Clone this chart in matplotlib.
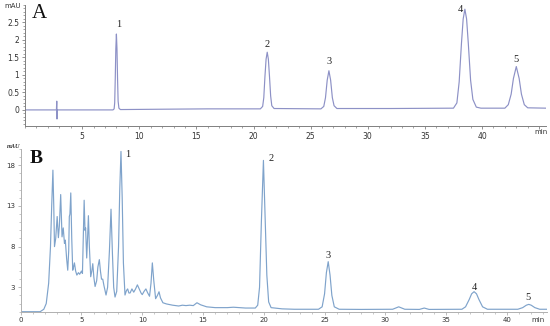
import matplotlib
matplotlib.use('Agg')
import matplotlib.pyplot as plt
from matplotlib.ticker import MultipleLocator

# === Panel A: standard mixture (time in min, absorbance in mAU) ===
time_a = [0.0, 2.75, 2.78, 2.80, 2.83, 5.0, 7.7, 7.8, 7.85, 7.9, 7.95, 8.0, 8.05, 8.1, 8.15, 8.22, 8.35,
          12.0, 16.0, 20.6, 20.8, 20.9, 21.0, 21.1, 21.2, 21.3, 21.4, 21.5, 21.6, 21.8,
          25.9, 26.15, 26.3, 26.45, 26.6, 26.75, 26.9, 27.05, 27.3,
          32.0, 37.5, 37.8, 38.0, 38.2, 38.35, 38.5, 38.65, 38.8, 39.0, 39.2, 39.5, 39.9,
          42.0, 42.3, 42.55, 42.75, 43.0, 43.25, 43.45, 43.7, 44.0, 45.6]
signal_a = [0.0, 0.0, 0.25, -0.26, 0.0, 0.0, 0.0, 0.03, 0.2, 0.9, 1.75, 2.17, 1.75, 0.9, 0.25, 0.05, 0.01,
            0.02, 0.03, 0.03, 0.1, 0.35, 0.95, 1.45, 1.65, 1.45, 0.95, 0.4, 0.12, 0.04,
            0.03, 0.1, 0.35, 0.85, 1.12, 0.85, 0.35, 0.12, 0.04,
            0.04, 0.05, 0.2, 0.8, 1.9, 2.6, 2.88, 2.6, 1.9, 0.85, 0.3, 0.08, 0.05,
            0.05, 0.15, 0.45, 0.9, 1.24, 0.9, 0.45, 0.15, 0.06, 0.05]
peaks_a_t = [8.17, 21.2, 26.6, 38.1, 43.0]
peaks_a_v = [2.44, 1.87, 1.38, 2.87, 1.44]

# === Panel B: sample extract ===
time_b = [0.0, 1.6, 1.9, 2.1, 2.3, 2.45, 2.55, 2.65, 2.72, 2.78, 2.88, 3.0, 3.1, 3.18, 3.29, 3.4, 3.5,
          3.6, 3.67, 3.78, 3.87, 3.95, 4.0, 4.05, 4.12, 4.2, 4.28, 4.35, 4.42, 4.52, 4.62, 4.75,
          4.85, 5.0, 5.08, 5.15, 5.22, 5.29, 5.34, 5.43, 5.5, 5.57, 5.65, 5.76, 5.85, 5.93, 6.02,
          6.12, 6.25, 6.35, 6.47, 6.56, 6.65, 6.75, 6.85, 7.02, 7.15, 7.3, 7.43, 7.55, 7.65, 7.76,
          7.9, 8.05, 8.15, 8.25, 8.35, 8.45, 8.58, 8.7, 8.8, 8.9, 9.0, 9.15, 9.3, 9.45, 9.6, 9.75,
          9.9, 10.0, 10.15, 10.3, 10.45, 10.6, 10.72, 10.83, 10.95, 11.1, 11.25, 11.38, 11.5, 11.7,
          12.0, 12.5, 13.0, 13.3, 13.6, 13.9, 14.2, 14.5, 14.8, 15.3, 16.0, 17.0, 17.5, 18.5, 19.3,
          19.5, 19.65, 19.8, 19.97, 20.1, 20.25, 20.4, 20.6, 21.5, 22.5, 24.5, 24.8, 25.0, 25.15,
          25.3, 25.45, 25.6, 25.8, 26.2, 28.0, 30.6, 31.1, 31.6, 32.8, 33.2, 33.6, 36.3, 36.6,
          36.9, 37.1, 37.3, 37.5, 37.7, 38.0, 38.4, 40.9, 41.3, 41.6, 41.8, 42.0, 42.3, 42.7, 43.3]
signal_b = [0.0, 0.0, 0.3, 1.0, 3.5, 8.0, 13.0, 17.4, 13.0, 8.0, 9.0, 11.7, 9.1, 10.5, 14.4, 9.2, 10.3,
            8.4, 8.8, 6.5, 5.1, 7.5, 11.7, 12.0, 14.6, 9.0, 5.1, 5.5, 6.0, 5.0, 4.5, 4.8,
            4.6, 5.0, 4.7, 9.0, 13.7, 10.0, 10.3, 6.6, 9.0, 11.8, 8.0, 4.3, 5.0, 5.9, 4.2,
            3.1, 3.8, 5.5, 6.4, 5.0, 4.0, 4.0, 3.2, 2.05, 3.0, 7.5, 12.6, 7.0, 3.0, 1.8,
            2.5, 8.0, 15.0, 19.7, 14.0, 6.0, 2.05, 2.6, 2.8, 2.3, 2.3, 2.8, 2.4, 2.8, 3.3, 2.8,
            2.3, 2.1, 2.5, 2.8, 2.3, 1.9, 3.5, 6.0, 3.8, 1.6, 2.0, 2.45, 1.7, 1.1,
            0.95, 0.8, 0.7, 0.8, 0.75, 0.8, 0.75, 1.1, 0.85, 0.6, 0.5, 0.5, 0.55, 0.45, 0.45,
            0.8, 3.0, 11.0, 18.6, 12.0, 4.5, 1.2, 0.5, 0.35, 0.3, 0.3, 0.6, 2.2, 4.8,
            6.15, 4.5, 2.0, 0.6, 0.3, 0.28, 0.3, 0.6, 0.3, 0.28, 0.45, 0.28, 0.3, 0.6,
            1.5, 2.2, 2.46, 2.2, 1.5, 0.6, 0.3, 0.3, 0.5, 0.8, 0.9, 0.8, 0.5, 0.3, 0.3]
peaks_b_t = [8.8, 20.6, 25.3, 37.3, 41.75]
peaks_b_v = [19.3, 18.8, 6.85, 3.0, 1.7]
peak_names = ['1', '2', '3', '4', '5']

W, H = 550, 326
fig = plt.figure(figsize=(W / 100, H / 100), dpi=100)
fig.set_facecolor('white')

def style_axes(ax, spine_col, lab_col):
    for s in ['top', 'right']:
        ax.spines[s].set_visible(False)
    for s in ['left', 'bottom']:
        ax.spines[s].set_color(spine_col)
        ax.spines[s].set_linewidth(0.7)
    ax.tick_params(which='major', length=2.5, width=0.6, color=spine_col, labelsize=5.5,
                   labelcolor=lab_col, pad=1.5)
    ax.tick_params(which='minor', length=1.5, width=0.5, color=spine_col)

# --- Panel A ---
axA = fig.add_axes([25 / W, 1 - 126 / H, 521 / W, 121 / H])
axA.plot(time_a, signal_a, color='#8d91c6', lw=0.85)
axA.set_xlim(0, 45.6)
axA.set_ylim(-0.46, 3.0)
axA.set_xticks([5, 10, 15, 20, 25, 30, 35, 40, 45])
axA.set_xticklabels(['5', '10', '15', '20', '25', '30', '35', '40', ''])
axA.xaxis.set_minor_locator(MultipleLocator(1))
axA.set_yticks([0, 0.5, 1, 1.5, 2, 2.5])
axA.set_yticklabels(['0', '0.5', '1', '1.5', '2', '2.5'])
axA.yaxis.set_minor_locator(MultipleLocator(0.1))
style_axes(axA, '#808080', '#333333')
axA.text(45.2, -0.55, 'min', fontsize=5, color='#333333', ha='center', va='top')
axA.text(-1.1, 3.05, 'mAU', fontsize=5, color='#333333', ha='center', va='top')
axA.text(0.6, 2.75, 'A', fontsize=15, family='Liberation Serif', color='#111111', ha='left', va='center')
for t, v, n in zip(peaks_a_t, peaks_a_v, peak_names):
    axA.text(t, v, n, fontsize=7.5, family='Liberation Serif', color='#222222', ha='center', va='center')

# --- Panel B ---
axB = fig.add_axes([20.7 / W, 1 - 311.7 / H, 526.3 / W, 162.7 / H])
axB.plot(time_b, signal_b, color='#7fa3cb', lw=0.85)
axB.set_xlim(0, 43.3)
axB.set_ylim(0, 20)
axB.set_xticks([0, 5, 10, 15, 20, 25, 30, 35, 40])
axB.xaxis.set_minor_locator(MultipleLocator(1))
axB.set_yticks([3, 8, 13, 18])
axB.yaxis.set_minor_locator(MultipleLocator(1))
style_axes(axB, '#b0b0b0', '#333333')
axB.tick_params(which='major', labelsize=5)
axB.text(42.6, -0.6, 'min', fontsize=5, color='#333333', ha='center', va='top')
axB.text(-0.6, 20.0, 'mAU', fontsize=4.5, color='#333333', weight='bold', style='italic',
         family='Liberation Serif', ha='center', va='bottom')
axB.text(0.75, 18.8, 'B', fontsize=14, family='Liberation Serif', weight='bold', color='#111111',
         ha='left', va='center')
for t, v, n in zip(peaks_b_t, peaks_b_v, peak_names):
    axB.text(t, v, n, fontsize=7.5, family='Liberation Serif', color='#222222', ha='center', va='center')

fig.savefig('out.png', dpi=100)
